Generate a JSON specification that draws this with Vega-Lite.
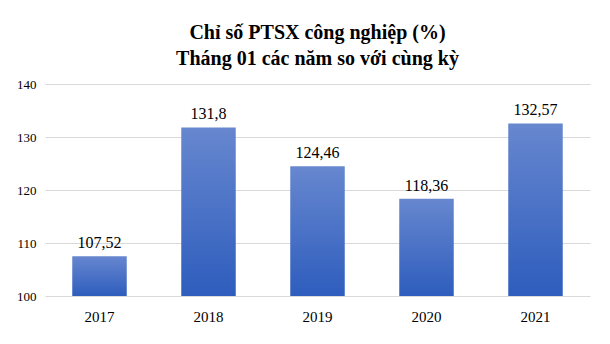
{
  "$schema": "https://vega.github.io/schema/vega-lite/v6.json",
  "width": 545,
  "height": 212,
  "autosize": "none",
  "padding": {"left": 45, "top": 84, "right": 20, "bottom": 48},
  "background": "white",
  "config": {
    "view": {"stroke": null},
    "font": "'Liberation Serif', 'Times New Roman', serif",
    "locale": {"number": {"decimal": ",", "thousands": ".", "grouping": [3], "currency": ["", ""]}}
  },
  "title": {
    "text": ["Chỉ số PTSX công nghiệp (%)", "Tháng 01 các năm so với cùng kỳ"],
    "font": "'Liberation Serif', 'Times New Roman', serif",
    "fontSize": 20,
    "fontWeight": "bold",
    "color": "#000000",
    "anchor": "middle",
    "lineHeight": 26,
    "offset": 9
  },
  "data": {
    "values": [
      {"year": "2017", "value": 107.52},
      {"year": "2018", "value": 131.8},
      {"year": "2019", "value": 124.46},
      {"year": "2020", "value": 118.36},
      {"year": "2021", "value": 132.57}
    ]
  },
  "encoding": {
    "x": {
      "field": "year",
      "type": "nominal",
      "scale": {"paddingInner": 0.5, "paddingOuter": 0.25},
      "axis": {
        "title": null,
        "labelAngle": 0,
        "labelFont": "'Liberation Serif', 'Times New Roman', serif",
        "labelFontSize": 15,
        "labelColor": "#000000",
        "labelPadding": 13,
        "ticks": false,
        "domain": false
      }
    }
  },
  "layer": [
    {
      "mark": {
        "type": "bar",
        "color": {
          "gradient": "linear",
          "x1": 0, "y1": 0, "x2": 0, "y2": 1,
          "stops": [
            {"offset": 0, "color": "#6787cf"},
            {"offset": 1, "color": "#2e5dbd"}
          ]
        }
      },
      "encoding": {
        "y": {
          "field": "value",
          "type": "quantitative",
          "scale": {"domain": [100, 140], "zero": false, "nice": false},
          "axis": {
            "title": null,
            "values": [100, 110, 120, 130, 140],
            "labelFont": "'Liberation Serif', 'Times New Roman', serif",
            "labelFontSize": 13,
            "labelColor": "#000000",
            "labelPadding": 9,
            "ticks": false,
            "domain": false,
            "gridColor": "#d9d9d9",
            "gridWidth": 1,
            "format": "d"
          }
        },
        "y2": {"datum": 100}
      }
    },
    {
      "mark": {
        "type": "text",
        "baseline": "bottom",
        "dy": -5,
        "font": "'Liberation Serif', 'Times New Roman', serif",
        "fontSize": 16,
        "color": "#000000"
      },
      "encoding": {
        "y": {"field": "value", "type": "quantitative"},
        "text": {"field": "value", "type": "quantitative", "format": ".5~r"}
      }
    }
  ]
}
